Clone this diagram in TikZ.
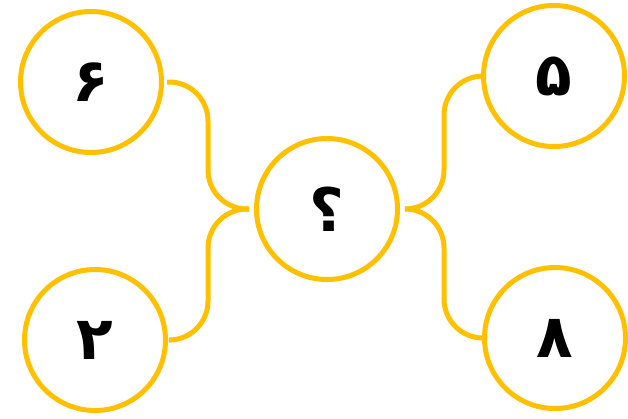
\documentclass[tikz,border=0pt]{standalone}
\usepackage{fontspec}
\newfontfamily\arabicfont[Script=Arabic]{DejaVu Sans}
\TeXXeTstate=1
\definecolor{gold}{RGB}{255,192,0}
\begin{document}
\begin{tikzpicture}[x=1pt,y=-1pt,
  ring/.style={circle,draw=gold,line width=5pt,minimum size=141pt,inner sep=0pt,
    font=\arabicfont\bfseries\fontsize{60}{62}\selectfont},
  brace/.style={draw=gold,line width=5pt,rounded corners=39pt}]
\useasboundingbox (0,0) rectangle (628,418);
\node[ring] (six)   at (91,82)  {\beginR ۶\endR};
\node[ring] (two)   at (95,340) {\beginR ۲\endR};
\node[ring] (q)     at (327,209) {\beginR ؟\endR};
\node[ring] (five)  at (554,76) {\beginR ۵\endR};
\node[ring] (eight) at (555,338) {\beginR ۸\endR};
% left brace
\coordinate (ltip) at ([xshift=-5pt]q.west);
\coordinate (l6) at ([xshift=3pt]six.east);
\coordinate (l2) at ([xshift=3pt]two.east);
\draw[brace] (l6) -- (208,82) -- (208,209) -- (ltip);
\draw[brace] (ltip) -- (208,209) -- (208,340) -- (l2);
% right brace
\coordinate (rtip) at ([xshift=5pt]q.east);
\coordinate (r5) at (five.west);
\coordinate (r8) at (eight.west);
\draw[brace] (r5) -- (444,76) -- (444,209) -- (rtip);
\draw[brace] (rtip) -- (444,209) -- (444,338) -- (r8);
\end{tikzpicture}
\end{document}
